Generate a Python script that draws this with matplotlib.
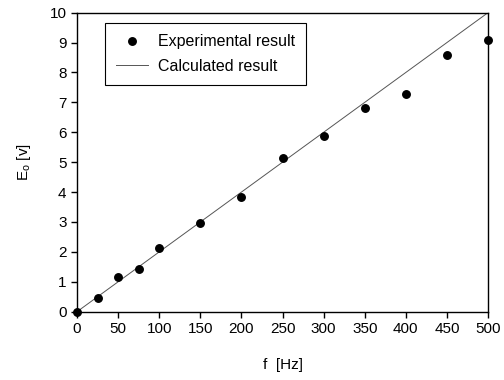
import matplotlib
matplotlib.use("Agg")
import matplotlib.pyplot as plt

plt.rcParams['font.family'] = ['Liberation Sans', 'DejaVu Sans']

freq = [0, 25, 50, 75, 100, 150, 200, 250, 300, 350, 400, 450, 500]
e_exp = [0.0, 0.47, 1.17, 1.42, 2.13, 2.96, 3.85, 5.13, 5.88, 6.80, 7.27, 8.58, 9.08]
calc_f = [0, 500]
calc_e = [0, 10]
xticks = [0, 50, 100, 150, 200, 250, 300, 350, 400, 450, 500]
yticks = list(range(0, 11))

fig = plt.figure(figsize=(5.04, 3.8), dpi=100)
ax = fig.add_axes([0.1528, 0.1797, 0.8155, 0.787])

ax.plot(freq, e_exp, 'o', color='black', markersize=5.4, clip_on=False, zorder=3,
        label='Experimental result')
ax.plot(calc_f, calc_e, '-', color='#555555', linewidth=0.7, label='Calculated result')

ax.set_xlim(0, 500)
ax.set_ylim(0, 10)
ax.set_xticks(xticks)
ax.set_yticks(yticks)
ax.tick_params(direction='out', length=4, width=1, labelsize=11, colors='black')
for s in ax.spines.values():
    s.set_linewidth(1.0)
    s.set_color('black')

ax.set_xlabel('f  [Hz]', fontsize=11, labelpad=16)
ax.set_ylabel(r'E$_\mathregular{o}$ [v]', fontsize=11, labelpad=12)

leg = ax.legend(loc='upper left', bbox_to_anchor=(0.068, 0.9655), fontsize=11.5,
                frameon=True, fancybox=False, edgecolor='black', framealpha=1,
                handlelength=2.0, borderpad=0.7, labelspacing=0.6, handletextpad=0.6,
                borderaxespad=0)
leg.get_frame().set_linewidth(0.8)

fig.savefig('out.png', dpi=100)
